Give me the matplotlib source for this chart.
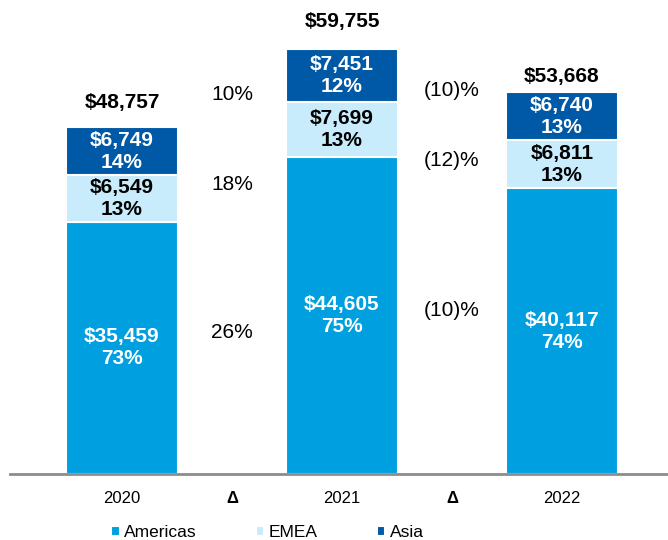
import numpy as np
import matplotlib
matplotlib.use("Agg")
import matplotlib.pyplot as plt

plt.rcParams["font.family"] = ["Liberation Sans", "DejaVu Sans"]

# data
years = ["2020", "2021", "2022"]
americas = [35459, 44605, 40117]
emea = [6549, 7699, 6811]
asia = [6749, 7451, 6740]
americas_pct = ["73%", "75%", "74%"]
emea_pct = ["13%", "13%", "13%"]
asia_pct = ["14%", "12%", "13%"]
totals = [48757, 59755, 53668]

# year-over-year change, listed as Americas, EMEA, Asia
delta_21 = ["26%", "18%", "10%"]
delta_22 = ["(10)%", "(12)%", "(10)%"]

c_am = "#009FDF"
c_em = "#C8ECFB"
c_as = "#0059A6"

fig = plt.figure(figsize=(6.68, 5.4), dpi=100)
ax = fig.add_axes([10 / 668, 66 / 540, 658 / 668, 474 / 540])

x = np.arange(len(years))
w = 0.51
am = np.array(americas)
em = np.array(emea)
asa = np.array(asia)

ax.bar(x, am, w, color=c_am, edgecolor="white", linewidth=1.5, label="Americas")
ax.bar(x, em, w, bottom=am, color=c_em, edgecolor="white", linewidth=1.5, label="EMEA")
ax.bar(x, asa, w, bottom=am + em, color=c_as, edgecolor="white", linewidth=1.5, label="Asia")

scale = 347 / 48757  # px per unit
ax.set_ylim(0, 474 / scale)
ax.set_xlim(-0.509, 2.482)

fs = 15
ls = 1.2
for i in range(len(years)):
    ax.text(x[i], am[i] / 2, f"${americas[i]:,}\n{americas_pct[i]}", ha="center", va="center",
            color="white", fontsize=fs, fontweight="bold", linespacing=ls)
    ax.text(x[i], am[i] + em[i] / 2, f"${emea[i]:,}\n{emea_pct[i]}", ha="center", va="center",
            color="black", fontsize=fs, fontweight="bold", linespacing=ls)
    ax.text(x[i], am[i] + em[i] + asa[i] / 2, f"${asia[i]:,}\n{asia_pct[i]}", ha="center", va="center",
            color="white", fontsize=fs, fontweight="bold", linespacing=ls)

gaps = [15, 18, 6]
for i, t in enumerate(totals):
    ax.annotate(f"${t:,}", (x[i], t), xytext=(0, gaps[i] * 0.72), textcoords="offset points",
                ha="center", va="bottom", fontsize=fs, fontweight="bold")

# delta label heights in pixels from the axis line
d21_y = [142, 289, 379]
d22_y = [164, 314, 384]
for lab, yp in zip(delta_21, d21_y):
    ax.text(0.5, yp / scale, lab, ha="center", va="center", fontsize=fs)
for lab, yp in zip(delta_22, d22_y):
    ax.text(1.5, yp / scale, lab, ha="center", va="center", fontsize=fs)

ax.set_xticks([0, 0.5, 1, 1.5, 2])
ax.set_xticklabels(["2020", "Δ", "2021", "Δ", "2022"], fontsize=12)
for lbl in ax.get_xticklabels()[1::2]:
    lbl.set_fontweight("bold")
ax.tick_params(axis="x", length=0, pad=12)
ax.set_yticks([])
for s in ["top", "right", "left"]:
    ax.spines[s].set_visible(False)
ax.spines["bottom"].set_color("#8c8c8c")
ax.spines["bottom"].set_linewidth(2)

leg = fig.legend(loc="center", bbox_to_anchor=(0.40, 0.013), ncol=3, frameon=False,
                 fontsize=12.5, handlelength=0.5, handleheight=0.5, handletextpad=0.25,
                 columnspacing=3.4)

fig.savefig("out.png", dpi=100)
